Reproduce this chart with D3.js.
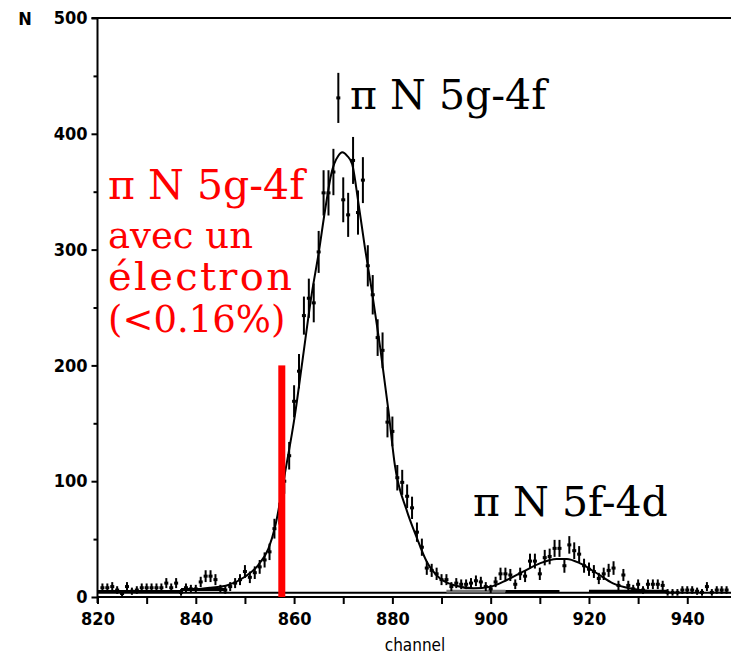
<!DOCTYPE html>
<html><head><meta charset="utf-8">
<script src="https://cdn.jsdelivr.net/npm/d3@7"></script>
<style>
html,body{margin:0;padding:0;background:#fff;}
svg{display:block;}
.tick text{font-family:"DejaVu Sans Condensed","DejaVu Sans",sans-serif;}
</style></head>
<body>
<script>
// ---------- data ----------
const firstChannel = 821;
const counts = [
  8,8,9,6,3,9,5,6,8,8,8,8,8,12,8,12,4,8,7,7,          // 821-840
  13,18,18,15,7,6,9,12,15,22,17,21,26,32,39,59,72,100,122,169, // 841-860
  195,243,258,254,298,349,349,367,431,343,330,377,332,360,286,261,224,213,151,143, // 861-880
  103,99,87,77,56,43,25,23,20,15,15,9,12,11,11,12,14,13,9,7,   // 881-900
  13,20,20,19,11,20,18,31,31,20,34,35,42,42,27,45,40,37,27,24, // 901-920
  22,16,20,23,25,10,19,10,7,11,6,11,11,11,10,4,4,4,6,6,        // 921-940
  6,5,4,9,4,6,6,6                                              // 941-948
];
const fitChannels = [837,840,843,846.6,850,852.7,854.8,856.1,858.1,860.2,861.7,863.6,865,866.3,867.6,869,869.8,870.8,871.8,873.1,874.4,875.8,877.5,879.2,880.5,882.9,884.9,887,889.7,892.4,896.5,899.9,903.3,906.6,910,913.4,915.5,918.2,921.6,924.9,928.3,931.7,936];
const fitValues   = [6,6.5,8,10.4,17.5,27.6,42,60,106,158,204,262,297,334,366,381,384,381,374,340,302,265,216,161,114,75,52,30.5,16,10.4,7.5,8.9,14.7,21.9,29,32.8,32.8,29,20.5,11.8,7.5,5.4,4.5];
const bgStart = [820,837,891,903,920];
const bgEnd   = [837,846,903,914,936];
const bgValue = [4.8,6.5,5,4.8,5];
const bgColor = ["#000","#000","#777","#000","#000"];
const baseValue = 3.6;
const xTicksMajor = [820,840,860,880,900,920,940];
const xTicksMinor = [830,850,870,890,910,930];
const yTicksMajor = [0,100,200,300,400,500];
const yTicksMinor = [50,150,250,350,450];
const redChannel = 857.5, redValue = 200;

// ---------- chart ----------
const W = 731, H = 655;
const svg = d3.select("body").append("svg").attr("width", W).attr("height", H);
const x = d3.scaleLinear().domain([820, 949]).range([97.5, 731.5]);
const y = d3.scaleLinear().domain([0, 500]).range([597, 18]);
const sans = '"DejaVu Sans Condensed","DejaVu Sans",sans-serif';
const serif = '"DejaVu Serif",serif';

// background fit line + segments
svg.append("line").attr("x1", x(820)).attr("x2", W).attr("y1", y(baseValue)).attr("y2", y(baseValue))
  .attr("stroke", "#000").attr("stroke-width", 2);
svg.append("g").selectAll("line").data(bgStart).join("line")
  .attr("x1", (d) => x(d)).attr("x2", (d, i) => x(bgEnd[i]))
  .attr("y1", (d, i) => y(bgValue[i])).attr("y2", (d, i) => y(bgValue[i]))
  .attr("stroke", (d, i) => bgColor[i]).attr("stroke-width", 3);

// axes
const xAxisMajor = d3.axisBottom(x).tickValues(xTicksMajor).tickSize(7).tickPadding(8).tickFormat(d3.format("d"));
const gx = svg.append("g").attr("transform", `translate(0,${y(0)})`).call(xAxisMajor);
gx.select(".domain").attr("stroke-width", 2).attr("d", `M${x(820)},0H${W}`);
gx.selectAll(".tick line").attr("stroke-width", 2);
gx.selectAll(".tick text").attr("font-size", 18).attr("font-weight", "bold").attr("fill", "#000");
const gx2 = svg.append("g").attr("transform", `translate(0,${y(0)})`)
  .call(d3.axisBottom(x).tickValues(xTicksMinor).tickSize(7).tickFormat(""));
gx2.select(".domain").remove();
gx2.selectAll(".tick line").attr("stroke-width", 2);

const gy = svg.append("g").attr("transform", `translate(${x(820)},0)`)
  .call(d3.axisLeft(y).tickValues(yTicksMajor).tickSize(6).tickPadding(4).tickFormat(d3.format("d")));
gy.select(".domain").attr("stroke-width", 2).attr("d", `M0,${y(500)}V${y(0) + 6}`);
gy.selectAll(".tick line").attr("stroke-width", 2);
gy.selectAll(".tick text").attr("font-size", 18).attr("font-weight", "bold").attr("fill", "#000");
const gy2 = svg.append("g").attr("transform", `translate(${x(820)},0)`)
  .call(d3.axisLeft(y).tickValues(yTicksMinor).tickSize(4).tickFormat(""));
gy2.select(".domain").remove();
gy2.selectAll(".tick line").attr("stroke-width", 2);

// top frame
svg.append("line").attr("x1", x(820) - 6).attr("x2", W).attr("y1", y(500)).attr("y2", y(500))
  .attr("stroke", "#000").attr("stroke-width", 2);

svg.append("text").attr("x", 25).attr("y", 25).attr("text-anchor", "middle")
  .attr("font-family", sans).attr("font-weight", "bold").attr("font-size", 18).text("N");
svg.append("text").attr("x", 415).attr("y", 651).attr("text-anchor", "middle")
  .attr("font-family", sans).attr("font-size", 17).text("channel");

// fit curve
const fitPts = fitChannels.map((c, i) => [c, fitValues[i]]);
svg.append("path").datum(fitPts)
  .attr("d", d3.line().x((d) => x(d[0])).y((d) => y(d[1])).curve(d3.curveMonotoneX))
  .attr("fill", "none").attr("stroke", "#000").attr("stroke-width", 2);

// data points with error bars
const pts = counts.map((v, i) => ({ c: firstChannel + i, v, e: Math.sqrt(v) }));
const gp = svg.append("g");
gp.selectAll("line").data(pts).join("line")
  .attr("x1", (d) => x(d.c)).attr("x2", (d) => x(d.c))
  .attr("y1", (d) => y(d.v + d.e) - 1).attr("y2", (d) => y(Math.max(0, d.v - d.e)) + 1)
  .attr("stroke", "#000").attr("stroke-width", 2);
gp.selectAll("rect").data(pts).join("rect")
  .attr("x", (d) => x(d.c) - 2).attr("y", (d) => y(d.v) - 1.5)
  .attr("width", 4).attr("height", 3).attr("fill", "#000");

// red marker bar
svg.append("rect").attr("x", x(redChannel) - 3.5).attr("width", 7)
  .attr("y", y(redValue)).attr("height", y(0) - y(redValue)).attr("fill", "#ff0000");

// annotations
svg.append("text").attr("x", 350).attr("y", 109).attr("font-family", serif).attr("font-size", 41)
  .attr("fill", "#000").text("π N 5g-4f");
svg.append("text").attr("x", 473).attr("y", 516).attr("font-family", serif).attr("font-size", 41)
  .attr("fill", "#000").text("π N 5f-4d");
svg.append("text").attr("x", 108).attr("y", 199).attr("font-family", serif).attr("font-size", 41)
  .attr("fill", "#ff0000").text("π N 5g-4f");
const redLines = ["avec un", "électron", "(<0.16%)"];
const redBase = [248, 290, 332];
const redSize = [37, 40, 37];
const redWidth = [null, 184, null];
svg.append("g").selectAll("text").data(redLines).join("text")
  .attr("x", 108).attr("y", (d, i) => redBase[i]).attr("font-family", serif).attr("font-size", (d, i) => redSize[i])
  .attr("textLength", (d, i) => redWidth[i]).attr("lengthAdjust", "spacing")
  .attr("fill", "#ff0000").text((d) => d);
</script>
</body></html>
